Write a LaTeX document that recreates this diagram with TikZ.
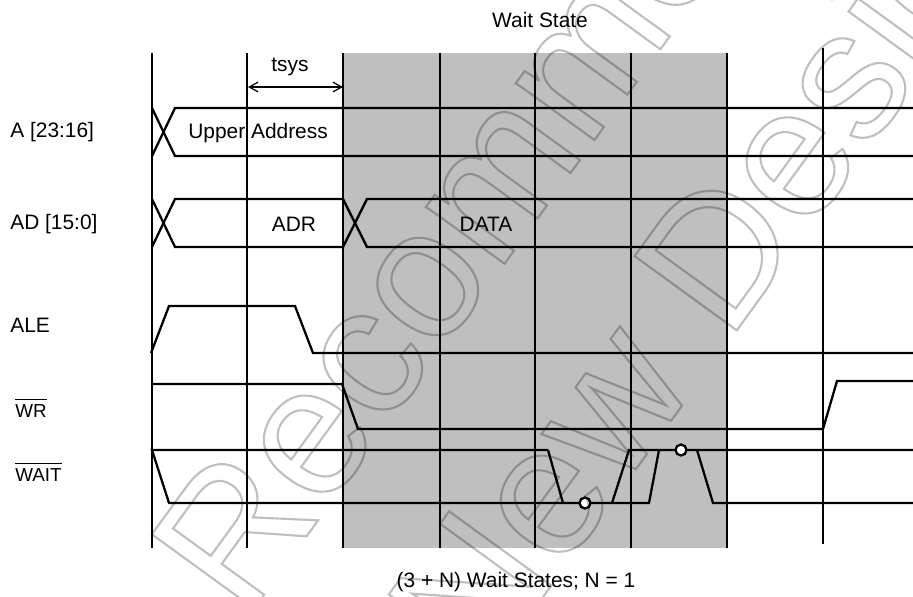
\documentclass[tikz,border=0pt]{standalone}
\usepackage{fontspec}
\setmainfont{Liberation Sans}
\usetikzlibrary{arrows.meta,positioning}
\newcommand{\hollow}[1]{\special{pdf:code q 1 Tr 1.2 w}#1\special{pdf:code Q}}
\newcommand{\lowact}[1]{$\overline{\mbox{\rule{0pt}{8.6pt}#1}}$}
\begin{document}
\begin{tikzpicture}[x=0.02cm,y=-0.02cm,
  tick/.style={line width=1pt},
  sig/.style={line width=1.3pt,line join=miter},
  lbl/.style={font=\fontsize{11.9}{13}\selectfont},
  leftlbl/.style={lbl,anchor=west,inner sep=0pt},
  sublbl/.style={font=\fontsize{10.7}{12}\selectfont,anchor=west,inner sep=0pt},
  wmark/.style={rotate=54,anchor=base west,inner sep=0pt,font=\fontsize{104.5}{105}\selectfont},
  bubble/.style={draw,circle,fill=white,line width=1.3pt,inner sep=0pt,minimum size=0.22cm}]
  \useasboundingbox (0,0) rectangle (913,596);
  \fill[black!25] (343,53) rectangle (727,548);
  % grid
  \foreach \x in {152,247,343,440,535,631,727}
    \draw[tick] (\x,53) -- (\x,548);
  \draw[tick] (823,48) -- (823,544);
  % A [23:16]
  \draw[sig] (152,108) -- (175,156) -- (913,156);
  \draw[sig] (152,156) -- (175,108) -- (913,108);
  % AD [15:0]
  \draw[sig] (152,199) -- (175,247) -- (343,247) -- (367,199) -- (913,199);
  \draw[sig] (152,247) -- (175,199) -- (343,199) -- (367,247) -- (913,247);
  % ALE
  \draw[sig] (151,353) -- (169,306) -- (295,306) -- (313,353) -- (913,353);
  % WR
  \draw[sig] (153,384) -- (342,384) -- (358,429) -- (823,429) -- (837,381) -- (913,381);
  % WAIT
  \draw[sig] (548,450) -- (152,450) -- (169,503) -- (649,503) -- (659,450);
  \draw[sig] (563,503) -- (548,450);
  \draw[sig] (612,503) -- (629,450) -- (913,450);
  \draw[sig] (697,450) -- (713,503) -- (913,503);
  \node[bubble] (low) at (585,503) {};
  \node[bubble] (high) at (681,450) {};
  % tsys
  \coordinate (tsysa) at (248,87);
  \coordinate (tsysb) at (343,87);
  \draw[{Straight Barb[length=5pt,width=5.5pt]}-{Straight Barb[length=5pt,width=5.5pt]},line width=0.7pt] (tsysa) -- (tsysb);
  \node[lbl] (tsys) at (290,67) {tsys};
  % texts
  \node[lbl] (waitstate) at (540,20) {Wait State};
  \node[lbl] (waitstates) at (516,582) {(3 + N) Wait States; N = 1};
  \node[leftlbl] (upper) at (188,133) {Upper Address};
  \node[lbl] (adr) at (294,224) {ADR};
  \node[lbl] (data) at (486,224) {DATA};
  \node[leftlbl] (a) at (10,132) {A [23:16]};
  \node[leftlbl] (ad) at (10,224) {AD [15:0]};
  \node[leftlbl] (ale) at (10,325) {ALE};
  \node[sublbl] (wr) at (15,408) {\lowact{WR}};
  \node[sublbl] (wait) at (15,472) {\lowact{WAIT}};
  % watermark
  \begin{scope}[opacity=0.25]
    \node[wmark] (wmone) at (245,621) {\hollow{Recommended}};
    \node[wmark] (wmtwo) at (482,681) {\hollow{New Design}};
  \end{scope}
\end{tikzpicture}
\end{document}
